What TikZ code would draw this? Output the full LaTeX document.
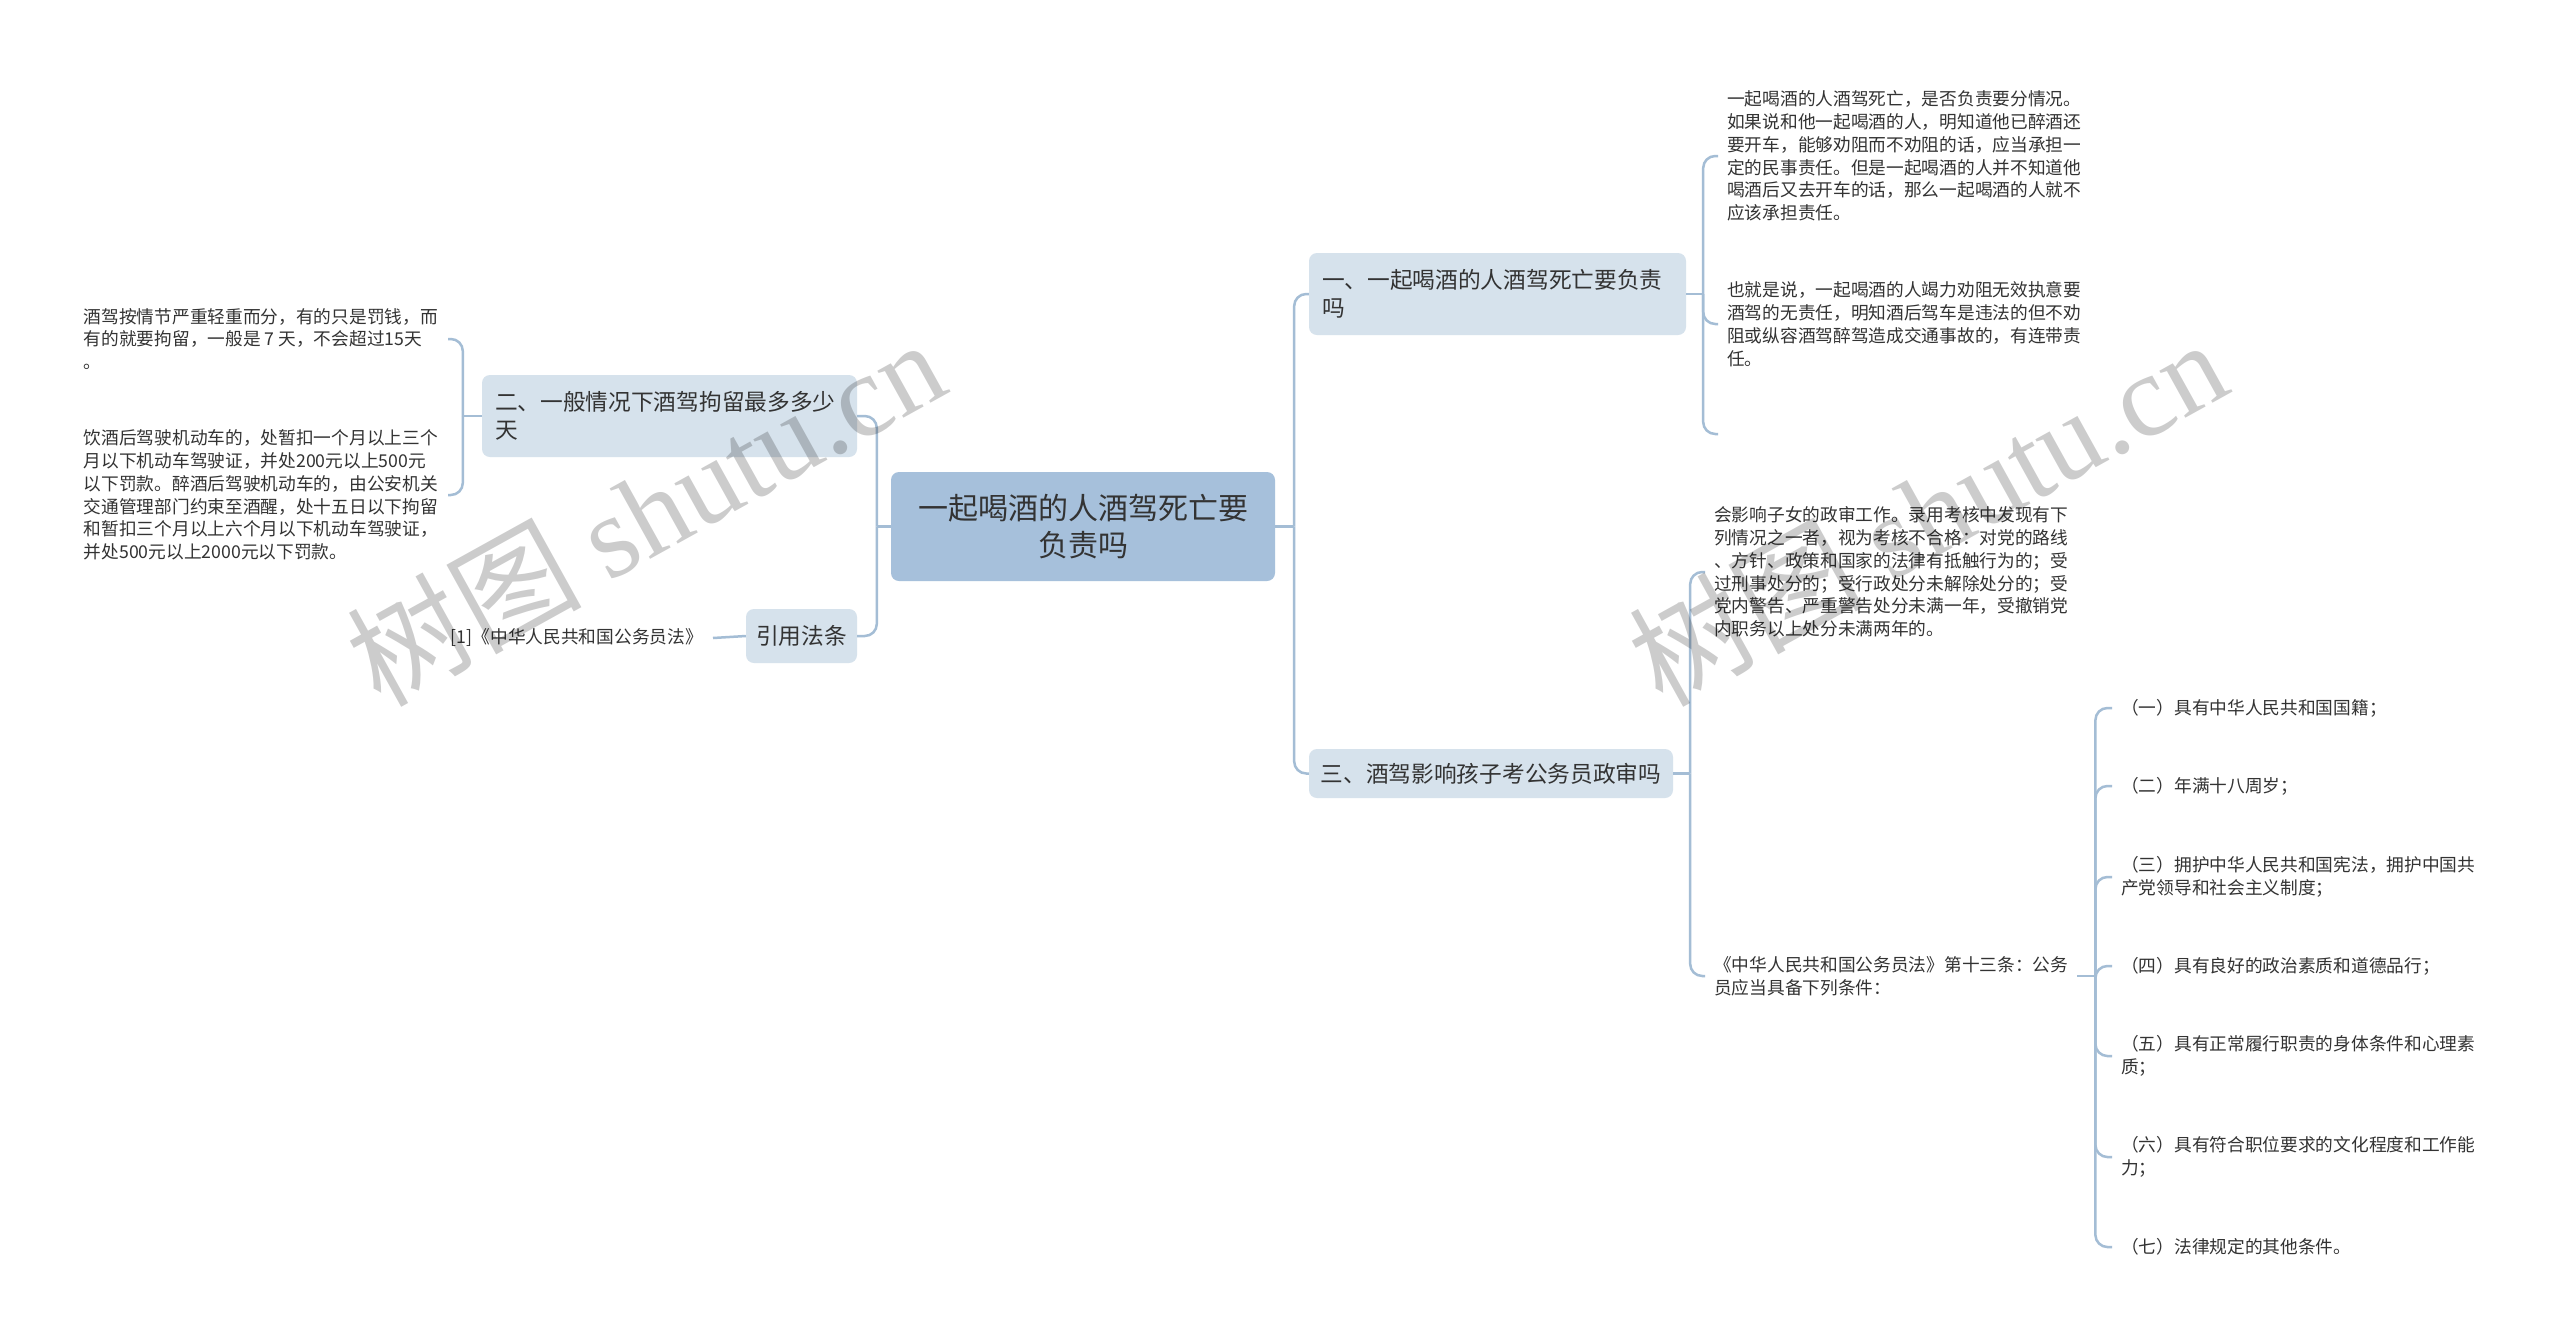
\documentclass[tikz,border=0pt]{standalone}
\usepackage{fontspec}
\setmainfont{Noto Sans CJK SC}
\newfontfamily\wmserif{Liberation Serif}
\definecolor{rootfill}{HTML}{A6C0DB}
\definecolor{subfill}{HTML}{D6E2EC}
\definecolor{linkcol}{HTML}{A4BDD5}
\definecolor{txt}{HTML}{333333}
\begin{document}
\begin{tikzpicture}[x=1pt,y=-1pt,
  rootbox/.style={fill=rootfill,rounded corners=8pt,text=txt,align=center,
    minimum width=384pt,minimum height=109pt,font=\fontsize{30}{37}\selectfont},
  subbox/.style={fill=subfill,rounded corners=8pt,text=txt,
    font=\fontsize{22.7}{28}\selectfont},
  leaf/.style={text=txt,align=left,inner xsep=9pt,inner ysep=2pt,
    font=\fontsize{17.7}{22.8}\selectfont},
  link/.style={draw=linkcol,line width=2.5pt},
  elbow/.style={link,rounded corners=12pt},
  wmark/.style={rotate=29,text=black,text opacity=0.2,
    font=\fontsize{117}{117}\selectfont}]
  \useasboundingbox[fill=white] (0,0) rectangle (2560,1342);

  \node[rootbox] (root) at (1083,526.5) {一起喝酒的人酒驾死亡要\\负责吗};
  \node[subbox,text width=351pt,align=left,inner xsep=13pt,minimum height=82pt] (b1) at (1497.5,294) {一、一起喝酒的人酒驾死亡要负责\\吗};
  \node[subbox,text width=349pt,align=left,inner xsep=13pt,minimum height=82pt] (b2) at (669.5,416) {二、一般情况下酒驾拘留最多多少\\天};
  \node[subbox,minimum width=111pt,minimum height=54pt] (cite) at (801.5,636) {引用法条};
  \node[subbox,minimum width=364pt,minimum height=49pt] (b3) at (1491,773.5) {三、酒驾影响孩子考公务员政审吗};

  \node[leaf,anchor=west] (l1a) at (1718,156) {一起喝酒的人酒驾死亡，是否负责要分情况。\\如果说和他一起喝酒的人，明知道他已醉酒还\\要开车，能够劝阻而不劝阻的话，应当承担一\\定的民事责任。但是一起喝酒的人并不知道他\\喝酒后又去开车的话，那么一起喝酒的人就不\\应该承担责任。};
  \node[leaf,anchor=west] (l1b) at (1718,324) {也就是说，一起喝酒的人竭力劝阻无效执意要\\酒驾的无责任，明知酒后驾车是违法的但不劝\\阻或纵容酒驾醉驾造成交通事故的，有连带责\\任。};
  \coordinate (l1c) at (1718,434);

  \node[leaf,anchor=east,inner xsep=10pt] (l2a) at (448,339) {酒驾按情节严重轻重而分，有的只是罚钱，而\\有的就要拘留，一般是 7 天，不会超过15天\\。};
  \node[leaf,anchor=east,inner xsep=10pt] (l2b) at (448,495) {饮酒后驾驶机动车的，处暂扣一个月以上三个\\月以下机动车驾驶证，并处200元以上500元\\以下罚款。醉酒后驾驶机动车的，由公安机关\\交通管理部门约束至酒醒，处十五日以下拘留\\和暂扣三个月以上六个月以下机动车驾驶证，\\并处500元以上2000元以下罚款。};
  \node[leaf,anchor=east,inner xsep=10pt] (law) at (713,638) {[1]《中华人民共和国公务员法》};

  \node[leaf,anchor=west] (l3a) at (1705,572) {会影响子女的政审工作。录用考核中发现有下\\列情况之一者，视为考核不合格：对党的路线\\、方针、政策和国家的法律有抵触行为的；受\\过刑事处分的；受行政处分未解除处分的；受\\党内警告、严重警告处分未满一年，受撤销党\\内职务以上处分未满两年的。};
  \node[leaf,anchor=west] (l3b) at (1705,976) {《中华人民共和国公务员法》第十三条：公务\\员应当具备下列条件：};

  \coordinate (jl) at ([xshift=-14pt]root.west);
  \coordinate (jr) at ([xshift=19pt]root.east);
  \coordinate (j1) at ([xshift=17pt]b1.east);
  \coordinate (j2) at ([xshift=-19pt]b2.west);
  \coordinate (j3) at ([xshift=17pt]b3.east);
  \coordinate (jc) at ([xshift=18pt]l3b.east);

  \draw[link] (root.west) -- (jl);
  \draw[elbow] (jl) |- (b2.east);
  \draw[elbow] (jl) |- (cite.east);
  \draw[link] (root.east) -- (jr);
  \draw[elbow] (jr) |- (b1.west);
  \draw[elbow] (jr) |- (b3.west);

  \draw[link] (b1.east) -- (j1);
  \draw[elbow] (j1) |- (l1a.west);
  \draw[elbow] (j1) |- (l1b.west);
  \draw[elbow] (j1) |- (l1c);

  \draw[link] (b2.west) -- (j2);
  \draw[elbow] (j2) |- (l2a.east);
  \draw[elbow] (j2) |- (l2b.east);
  \draw[link] (cite.west) -- (law.east);

  \draw[link] (b3.east) -- (j3);
  \draw[elbow] (j3) |- (l3a.west);
  \draw[elbow] (j3) |- (l3b.west);
  \draw[link] (l3b.east) -- (jc);

  \foreach \y/\t [count=\i] in {708/{（一）具有中华人民共和国国籍；},
      786/{（二）年满十八周岁；},
      877/{（三）拥护中华人民共和国宪法，拥护中国共\\产党领导和社会主义制度；},
      966/{（四）具有良好的政治素质和道德品行；},
      1056/{（五）具有正常履行职责的身体条件和心理素\\质；},
      1157/{（六）具有符合职位要求的文化程度和工作能\\力；},
      1247/{（七）法律规定的其他条件。}} {
    \node[leaf,anchor=west] (c\i) at (2112,\y) {\t};
    \draw[elbow] (jc) |- (c\i.west);
  }

  \node[wmark] (wm1) at (645,511) {树图 {\wmserif shutu.cn}};
  \node[wmark] (wm2) at (1927,511) {树图 {\wmserif shutu.cn}};
\end{tikzpicture}
\end{document}
